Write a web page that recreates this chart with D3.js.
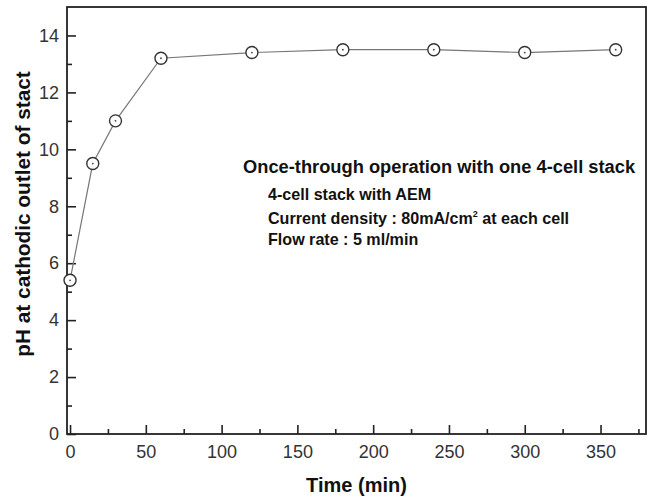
<!DOCTYPE html>
<html><head><meta charset="utf-8">
<script src="https://cdn.jsdelivr.net/npm/d3@7"></script>
<style>body{margin:0;background:#fff}svg{display:block}text{font-family:"Liberation Sans",Arial,sans-serif}</style>
</head><body><div id="c"></div>
<script>
const times = [0, 15, 30, 60, 120, 180, 240, 300, 360];
const phValues = [5.4, 9.5, 11.0, 13.2, 13.4, 13.5, 13.5, 13.4, 13.5];
const xTicks = [0, 50, 100, 150, 200, 250, 300, 350];
const yTicks = [0, 2, 4, 6, 8, 10, 12, 14];
const xLabel = "Time (min)";
const yLabel = "pH at cathodic outlet of stact";
const noteTitle = "Once-through operation with one 4-cell stack";
const noteLines = ["4-cell stack with AEM", "Current density : 80mA/cm", "Flow rate : 5 ml/min"];

const W = 655, H = 497;
const m = {l: 67, r: 9, t: 7, b: 63};
const svg = d3.select("#c").append("svg").attr("width", W).attr("height", H);
const x = d3.scaleLinear().domain([-2, 380]).range([m.l, W - m.r]);
const y = d3.scaleLinear().domain([0, 15]).range([H - m.b, m.t]);

const tc = "#333";
const xMinor = d3.range(25, 380, 50);
const yMinor = d3.range(1, 15, 2);
const gx = svg.append("g").attr("transform", `translate(0,${H - m.b})`);
gx.call(d3.axisBottom(x).tickValues(xTicks).tickSize(-9).tickPadding(11).tickFormat(d3.format("d")));
gx.append("g").call(d3.axisBottom(x).tickValues(xMinor).tickSize(-5).tickFormat(""));
const gy = svg.append("g").attr("transform", `translate(${m.l},0)`);
gy.call(d3.axisLeft(y).tickValues(yTicks).tickSize(-9).tickPadding(8).tickFormat(d3.format("d")));
gy.append("g").call(d3.axisLeft(y).tickValues(yMinor).tickSize(-5).tickFormat(""));
svg.selectAll(".domain").remove();
svg.selectAll(".tick line").attr("stroke", "#222").attr("stroke-width", 1.6);
svg.selectAll(".tick text").attr("fill", tc).attr("font-size", 18).attr("font-family", "Liberation Sans, Arial, sans-serif");

svg.append("rect").attr("x", x(-2)).attr("y", y(15)).attr("width", x(380) - x(-2)).attr("height", y(0) - y(15))
  .attr("fill", "none").attr("stroke", "#222").attr("stroke-width", 1.8);

svg.append("path").datum(times.map((t, i) => [t, phValues[i]]))
  .attr("d", d3.line().x(d => x(d[0])).y(d => y(d[1])))
  .attr("fill", "none").attr("stroke", "#777").attr("stroke-width", 1.2);
const pts = svg.append("g").selectAll("g").data(times.map((t, i) => [t, phValues[i]])).join("g")
  .attr("transform", d => `translate(${x(d[0])},${y(d[1])})`);
pts.append("circle").attr("r", 6).attr("fill", "#fff").attr("stroke", "#333").attr("stroke-width", 1.4);
pts.append("circle").attr("r", 0.9).attr("fill", "#444");

svg.append("text").attr("x", (x(-2) + x(380)) / 2).attr("y", 492).attr("text-anchor", "middle")
  .attr("font-size", 20).attr("font-weight", "bold").attr("fill", "#111").text(xLabel);
svg.append("text").attr("transform", `translate(30,214) rotate(-90)`).attr("text-anchor", "middle")
  .attr("font-size", 20.8).attr("font-weight", "bold").attr("fill", "#111").text(yLabel);

svg.append("text").attr("x", 243).attr("y", 173).attr("font-size", 18.3).attr("font-weight", "bold").attr("fill", "#111").text(noteTitle);
const ly = [199.5, 224, 245];
noteLines.forEach((s, i) => {
  const t = svg.append("text").attr("x", 268).attr("y", ly[i]).attr("font-size", 16.1).attr("font-weight", "bold").attr("fill", "#111").text(s);
  if (i === 1) {
    t.append("tspan").attr("font-size", 9).attr("dy", -7).text("2");
    t.append("tspan").attr("dy", 7).text(" at each cell");
  }
});
</script></body></html>
